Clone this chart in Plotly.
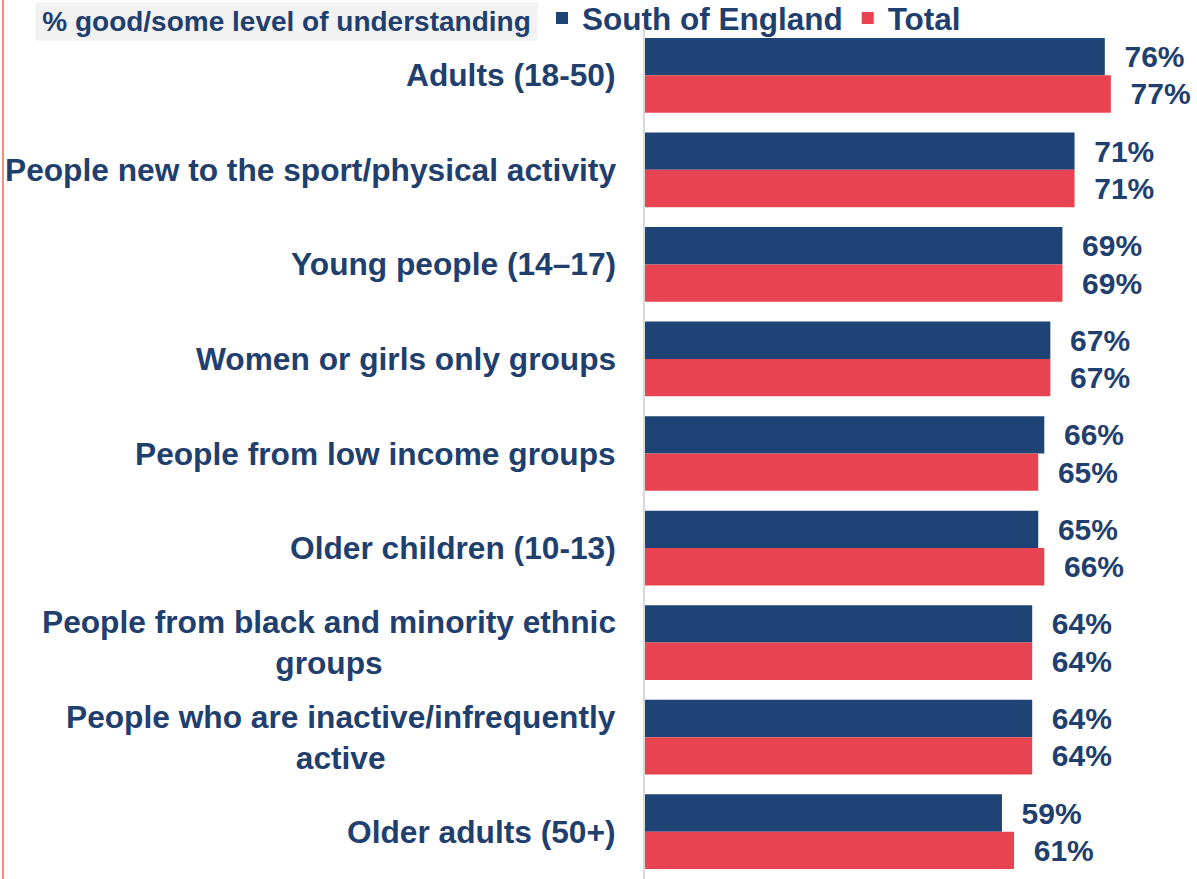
import plotly.graph_objects as go

categories = [
    "Adults (18-50)",
    "People new to the sport/physical activity",
    "Young people (14–17)",
    "Women or girls only groups",
    "People from low income groups",
    "Older children (10-13)",
    "People from black and minority ethnic<br>groups",
    "People who are inactive/infrequently<br>active",
    "Older adults (50+)",
]
south = [76, 71, 69, 67, 66, 65, 64, 64, 59]
total = [77, 71, 69, 67, 65, 66, 64, 64, 61]
series_names = ["South of England", "Total"]
title_text = "% good/some level of understanding"

NAVY = "#1D4474"
RED = "#E84351"
TEXT = "#1F3F6E"
FONT = "Liberation Sans, Arial, sans-serif"

W, H = 1197, 879
ML, MT = 645, 28
PW, PH = W - ML, H - MT

fig = go.Figure()
for name, vals, col in [(series_names[0], south, NAVY), (series_names[1], total, RED)]:
    fig.add_trace(go.Bar(
        name=name, y=categories, x=vals, orientation="h",
        marker=dict(color=col, line=dict(width=0)),
        text=[f"{v}%" for v in vals],
        texttemplate="  %{text}",
        textposition="outside", cliponaxis=False, constraintext="none",
        textfont=dict(family=FONT, size=30, color=TEXT, weight="bold"),
        hoverinfo="skip",
    ))

annotations = []
for cat in categories:
    annotations.append(dict(
        x=0, xref="paper", y=cat, yref="y", text="<b>%s</b>" % cat,
        xanchor="right", yanchor="middle", xshift=-27,
        showarrow=False, align="center",
        font=dict(family=FONT, size=31.7, color=TEXT),
    ))

annotations.append(dict(
    x=(286.5 - ML) / PW, xref="paper", y=1 + (MT - 21.5) / PH, yref="paper",
    text="<b>%s</b>" % title_text, showarrow=False,
    xanchor="center", yanchor="middle", bgcolor="#F2F2F2",
    width=497, height=33, borderpad=2,
    font=dict(family=FONT, size=28, color=TEXT),
))

fig.update_layout(
    width=W, height=H,
    margin=dict(l=ML, r=0, t=MT, b=0, pad=0, autoexpand=False),
    paper_bgcolor="white", plot_bgcolor="white",
    barmode="group", bargap=0.21, bargroupgap=0,
    showlegend=True,
    legend=dict(
        orientation="h", x=(542 - ML) / PW, xanchor="left",
        y=1 + (MT - 18) / PH, yanchor="middle",
        font=dict(family=FONT, size=31.5, color=TEXT, weight="bold"),
        bgcolor="rgba(0,0,0,0)", itemclick=False, itemdoubleclick=False,
        tracegroupgap=0,
    ),
    xaxis=dict(range=[0, PW / 6.05], visible=False, fixedrange=True),
    yaxis=dict(autorange="reversed", showticklabels=False, ticks="",
               showline=True, linecolor="#D9D9D9", linewidth=2, showgrid=False,
               fixedrange=True),
    annotations=annotations,
    shapes=[dict(type="line", xref="paper", yref="paper",
                 x0=(3 - ML) / PW, x1=(3 - ML) / PW, y0=-0.01, y1=1 + MT / PH,
                 line=dict(color="#F26B55", width=1.5))],
)
fig.write_html("out.html")
